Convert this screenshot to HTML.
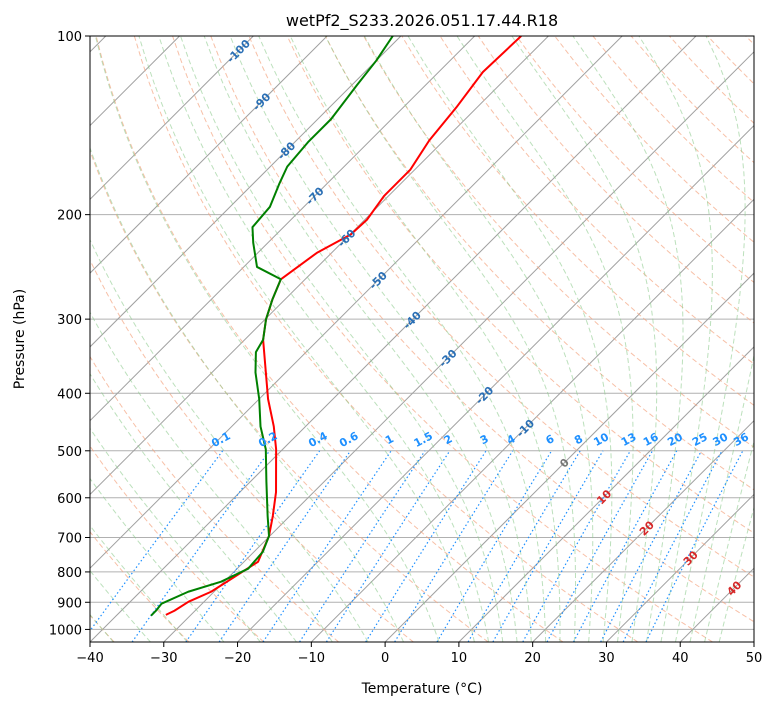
<!DOCTYPE html>
<html><head><meta charset="utf-8">
<style>
html,body{margin:0;padding:0;background:#fff;}
svg{display:block;font-family:"DejaVu Sans","Liberation Sans",sans-serif;}
</style></head>
<body>
<svg id="chart" width="775" height="708" viewBox="0 0 775 708" xmlns="http://www.w3.org/2000/svg">
<defs><clipPath id="clip"><rect x="90" y="36" width="664" height="606"/></clipPath></defs>
<rect x="0" y="0" width="775" height="708" fill="#fff"/>
<g id="bg" clip-path="url(#clip)"></g>
<g id="data" clip-path="url(#clip)"></g>
<g id="labels"></g>
<rect x="90" y="36" width="664" height="606" fill="none" stroke="#000" stroke-width="1"/>
<g id="axes"></g>
<text x="422" y="26" text-anchor="middle" font-size="16">wetPf2_S233.2026.051.17.44.R18</text>
<text x="422" y="693" text-anchor="middle" font-size="14">Temperature (°C)</text>
<text x="24" y="339" text-anchor="middle" font-size="14" transform="rotate(-90 24 339)">Pressure (hPa)</text>
</svg>
<script>
// ---- data ----
const tempPressure = [100,115,132,150,168,186,204,216,232,257,278,300,325,409,455,497,587,644,696,769,822,864,898,930,945];
const tempValues   = [-63.7,-64.0,-62.8,-62.0,-60.6,-60.6,-59.7,-59.9,-62.0,-63.3,-61.7,-59.9,-57.5,-48.8,-44.3,-40.9,-35.1,-32.3,-30.1,-28.1,-29.4,-30.4,-32.1,-32.8,-33.4];
const dewPressure  = [100,110,121,138,151,166,177,194,210,223,245,257,278,300,325,341,369,409,455,497,564,644,696,740,790,831,864,905,930,948];
const dewValues    = [-81.1,-80.0,-79.3,-78.2,-78.2,-77.7,-76.5,-74.6,-74.2,-72.0,-68.2,-63.3,-61.7,-59.9,-57.5,-56.8,-54.1,-50.0,-46.1,-42.3,-37.8,-33.0,-30.1,-28.8,-28.5,-30.4,-33.5,-35.5,-35.3,-35.3];
const xTickLabels  = [-40,-30,-20,-10,0,10,20,30,40,50];
const yTickLabels  = [100,200,300,400,500,600,700,800,900,1000];
const isothermLabels = [-100,-90,-80,-70,-60,-50,-40,-30,-20,-10,0,10,20,30,40];
const isothermLabelPressure = [106,129,156,186,219,258,301,349,403,458,524,598,675,758,852];
const mixingRatios = [0.1,0.2,0.4,0.6,1,1.5,2,3,4,6,8,10,13,16,20,25,30,36];
const mixingLabels = ["0.1","0.2","0.4","0.6","1","1.5","2","3","4","6","8","10","13","16","20","25","30","36"];

// ---- scales ----
const X0=90,X1=754,Y0=36,Y1=642,TMIN=-40,TMAX=50,PTOP=100,PBOT=1050;
const kx=(X1-X0)/(TMAX-TMIN);
function yP(p){return Y0+(Y1-Y0)*Math.log10(p/PTOP)/Math.log10(PBOT/PTOP);}
function xT(T,p){return X0+(T-TMIN)*kx+(Y1-yP(p));}
const NS="http://www.w3.org/2000/svg";
function mk(tag,attrs,parent){const e=document.createElementNS(NS,tag);for(const k in attrs)e.setAttribute(k,attrs[k]);parent.appendChild(e);return e;}
const bg=document.getElementById('bg'),dg=document.getElementById('data'),lg=document.getElementById('labels'),ax=document.getElementById('axes');
function pathFrom(pts){return pts.map((q,i)=>(i?'L':'M')+q[0].toFixed(2)+' '+q[1].toFixed(2)).join(' ');}

// pressure grid
yTickLabels.forEach(p=>{
  const l=mk('line',{x1:X0,x2:X1,y1:yP(p),y2:yP(p),stroke:'#b0b0b0','stroke-width':1},bg);
  
  
});
// isotherms
for(let T=-200;T<=60;T+=10){
  const l=mk('line',{x1:xT(T,PBOT),y1:yP(PBOT),x2:xT(T,PTOP),y2:yP(PTOP),stroke:'#a0a0a0','stroke-width':1},bg);
  
  
}
const plist=[];for(let p=PBOT;p>=PTOP-0.01;p-=10)plist.push(p);
// dry adiabats
for(let th=-40;th<=200;th+=10){
  const pts=plist.map(p=>[xT((th+273.15)*Math.pow(p/1000,0.2857)-273.15,p),yP(p)]);
  const l=mk('path',{d:pathFrom(pts),fill:'none',stroke:'#f4a582','stroke-width':1,'stroke-dasharray':'5,3',opacity:0.7},bg);
  
  
}
// moist adiabats
function es(T){return 6.112*Math.exp(17.67*T/(T+243.5));}
function dTdp(p,Tk){const T=Tk-273.15;const e=es(T);const rs=0.622*e/(p-e);const Rd=287.04,Lv=2.501e6,Cp=1005.7;
  return (1/p)*(Rd*Tk+Lv*rs)/(Cp+Lv*Lv*rs*0.622/(Rd*Tk*Tk));}
function moist(T0){
  const res={};let Tk=T0+273.15;res[1000]=Tk;
  for(let pp=1000;pp<PBOT;pp+=10){const h=10;const k1=dTdp(pp,Tk),k2=dTdp(pp+h/2,Tk+k1*h/2),k3=dTdp(pp+h/2,Tk+k2*h/2),k4=dTdp(pp+h,Tk+k3*h);Tk+=h*(k1+2*k2+2*k3+k4)/6;res[pp+h]=Tk;}
  Tk=T0+273.15;
  for(let pp=1000;pp>PTOP;pp-=10){const h=-10;const k1=dTdp(pp,Tk),k2=dTdp(pp+h/2,Tk+k1*h/2),k3=dTdp(pp+h/2,Tk+k2*h/2),k4=dTdp(pp+h,Tk+k3*h);Tk+=h*(k1+2*k2+2*k3+k4)/6;res[pp+h]=Tk;}
  return plist.map(p=>[xT(res[Math.round(p)]-273.15,p),yP(p)]);
}
const moistT0=[];for(let t=-50;t<=10;t+=5)moistT0.push(t);for(let t=12;t<=45;t+=2)moistT0.push(t);
moistT0.forEach(t=>{
  const l=mk('path',{d:pathFrom(moist(t)),fill:'none',stroke:'#8fcb8f','stroke-width':1,'stroke-dasharray':'5,3',opacity:0.6},bg);
  
  
});
// mixing ratio lines
function tdFromW(w,p){const e=p*w/(0.622+w);const a=Math.log(e/6.112);return 243.5*a/(17.67-a);}
mixingRatios.forEach((w,i)=>{
  const pts=[];for(let p=PBOT;p>=500;p-=10)pts.push([xT(tdFromW(w/1000,p),p),yP(p)]);
  const l=mk('path',{d:pathFrom(pts),fill:'none',stroke:'#1e90ff','stroke-width':1.2,'stroke-dasharray':'1.5,2.5'},bg);
  
  
  const lx=xT(tdFromW(w/1000,500),500),ly=yP(500)-8;
  const t=mk('text',{x:lx,y:ly,'text-anchor':'middle','font-size':11,'font-weight':'bold',fill:'#1e90ff',transform:`rotate(-28 ${lx} ${ly})`},lg);
  t.textContent=mixingLabels[i];
  
  
});
// isotherm labels
isothermLabels.forEach((T,i)=>{
  const p=isothermLabelPressure[i];const lx=xT(T,p),ly=yP(p)+4;
  const col=T<0?'#2a6fb5':(T===0?'#777':'#d62728');
  const t=mk('text',{x:lx,y:ly,'text-anchor':'middle','font-size':11,'font-weight':'bold',fill:col,transform:`rotate(-45 ${lx} ${ly-4})`},lg);
  t.textContent=String(T);
  
  
});
// profiles
const tp=mk('path',{d:pathFrom(tempPressure.map((p,i)=>[xT(tempValues[i],p),yP(p)])),fill:'none',stroke:'#ff0000','stroke-width':2,'stroke-linejoin':'round'},dg);


const dp=mk('path',{d:pathFrom(dewPressure.map((p,i)=>[xT(dewValues[i],p),yP(p)])),fill:'none',stroke:'#008000','stroke-width':2,'stroke-linejoin':'round'},dg);


// axes ticks
xTickLabels.forEach(T=>{
  const x=X0+(T-TMIN)*kx;
  const l=mk('line',{x1:x,x2:x,y1:Y1,y2:Y1+5,stroke:'#000'},ax);
  
  
  const t=mk('text',{x:x,y:Y1+20,'text-anchor':'middle','font-size':13},ax);
  t.textContent=(T<0?'\u2212'+(-T):String(T));
  
  
});
yTickLabels.forEach(p=>{
  const y=yP(p);
  const l=mk('line',{x1:X0-5,x2:X0,y1:y,y2:y,stroke:'#000'},ax);
  
  
  const t=mk('text',{x:X0-8,y:y+5,'text-anchor':'end','font-size':13},ax);
  t.textContent=String(p);
  
  
});
</script>
</body></html>
